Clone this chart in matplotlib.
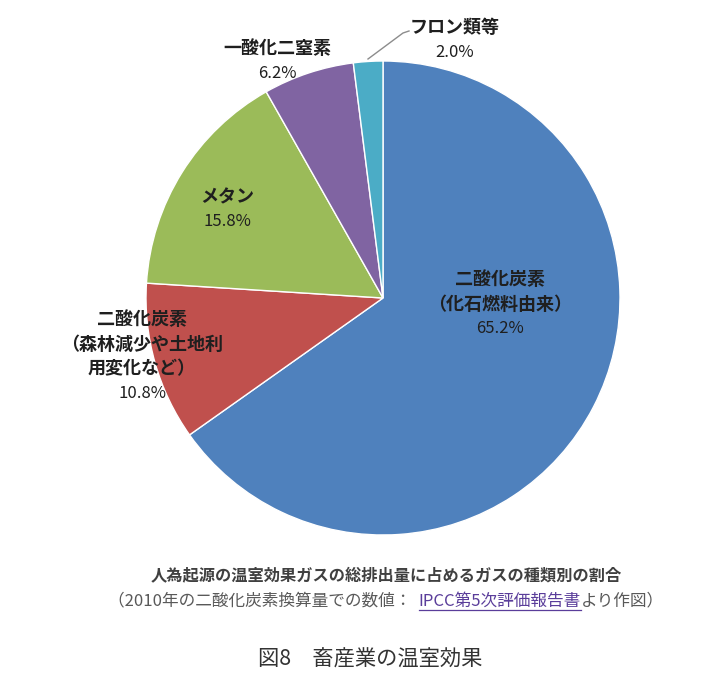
import matplotlib
matplotlib.use("Agg")
import matplotlib.pyplot as plt
from matplotlib.lines import Line2D

plt.rcParams['font.family'] = ['Noto Sans CJK JP', 'DejaVu Sans']

# ---- data ----
names = ['二酸化炭素\n（化石燃料由来）',
         '二酸化炭素\n（森林減少や土地利\n用変化など）',
         'メタン',
         '一酸化二窒素',
         'フロン類等']
values = [65.2, 10.8, 15.8, 6.2, 2.0]
pct_labels = ['65.2%', '10.8%', '15.8%', '6.2%', '2.0%']
colors = ['#4F81BD', '#C0504D', '#9BBB59', '#8064A2', '#4BACC6']

caption1 = '人為起源の温室効果ガスの総排出量に占めるガスの種類別の割合'
caption2_parts = ['（2010年の二酸化炭素換算量での数値：  ', 'IPCC第5次評価報告書', 'より作図）']
fig_title = '図8　畜産業の温室効果'

# ---- layout (pixels) ----
W, H = 725, 695
cx, cy, R = 383, 298, 237
label_pos = [(500, 280), (142, 320), (227, 197), (277, 49), (455, 28)]
line_step = 24.5

fig = plt.figure(figsize=(W / 100, H / 100), dpi=100)
ax = fig.add_axes([0, 0, 1, 1])

def px(x, y):
    return ((x - cx) / R, (cy - y) / R)

ax.pie(values, colors=colors, startangle=90, counterclock=False,
       wedgeprops=dict(edgecolor='white', linewidth=1.0))
ax.set_xlim((0 - cx) / R, (W - cx) / R)
ax.set_ylim((cy - H) / R, cy / R)
ax.set_aspect('auto')
ax.axis('off')

# labels
for name, pct, (lx, ly) in zip(names, pct_labels, label_pos):
    lines = name.split('\n')
    for i, ln in enumerate(lines):
        ax.text(*px(lx, ly + i * line_step), ln, ha='center', va='center',
                fontsize=13, fontweight='bold', color='#1f1f1f')
    ax.text(*px(lx, ly + len(lines) * line_step), pct, ha='center', va='center',
            fontsize=12, color='#1f1f1f')

# leader line for フロン類等
lx0, ly0 = px(368, 59)
lx1, ly1 = px(403, 33)
lx2, ly2 = px(409, 31)
ax.add_line(Line2D([lx0, lx1, lx2], [ly0, ly1, ly2], color='#8c8c8c', linewidth=1.0))

# captions
ax.text(*px(386, 575), caption1, ha='center', va='center', fontsize=11.7,
        fontweight='bold', color='#404040')

fig.canvas.draw()
renderer = fig.canvas.get_renderer()
part_colors = ['#595959', '#5a3d9a', '#595959']
tmp = []
widths = []
for p, c in zip(caption2_parts, part_colors):
    t = fig.text(0, 0, p, fontsize=12, color=c, va='center', ha='left')
    bb = t.get_window_extent(renderer)
    widths.append(bb.width)
    tmp.append(t)
total = sum(widths)
x_start = 386 - total / 2
y_line = 601
xcur = x_start
for t, w, i in zip(tmp, widths, range(3)):
    t.set_position((xcur / W, 1 - y_line / H))
    if i == 1:
        fig.add_artist(Line2D([xcur / W, (xcur + w) / W],
                              [1 - (y_line + 9) / H, 1 - (y_line + 9) / H],
                              color='#5a3d9a', linewidth=0.9))
    xcur += w

ax.text(*px(370, 660), fig_title, ha='center', va='center', fontsize=15.3,
        color='#333333')

fig.savefig('out.png', dpi=100, facecolor='white')
